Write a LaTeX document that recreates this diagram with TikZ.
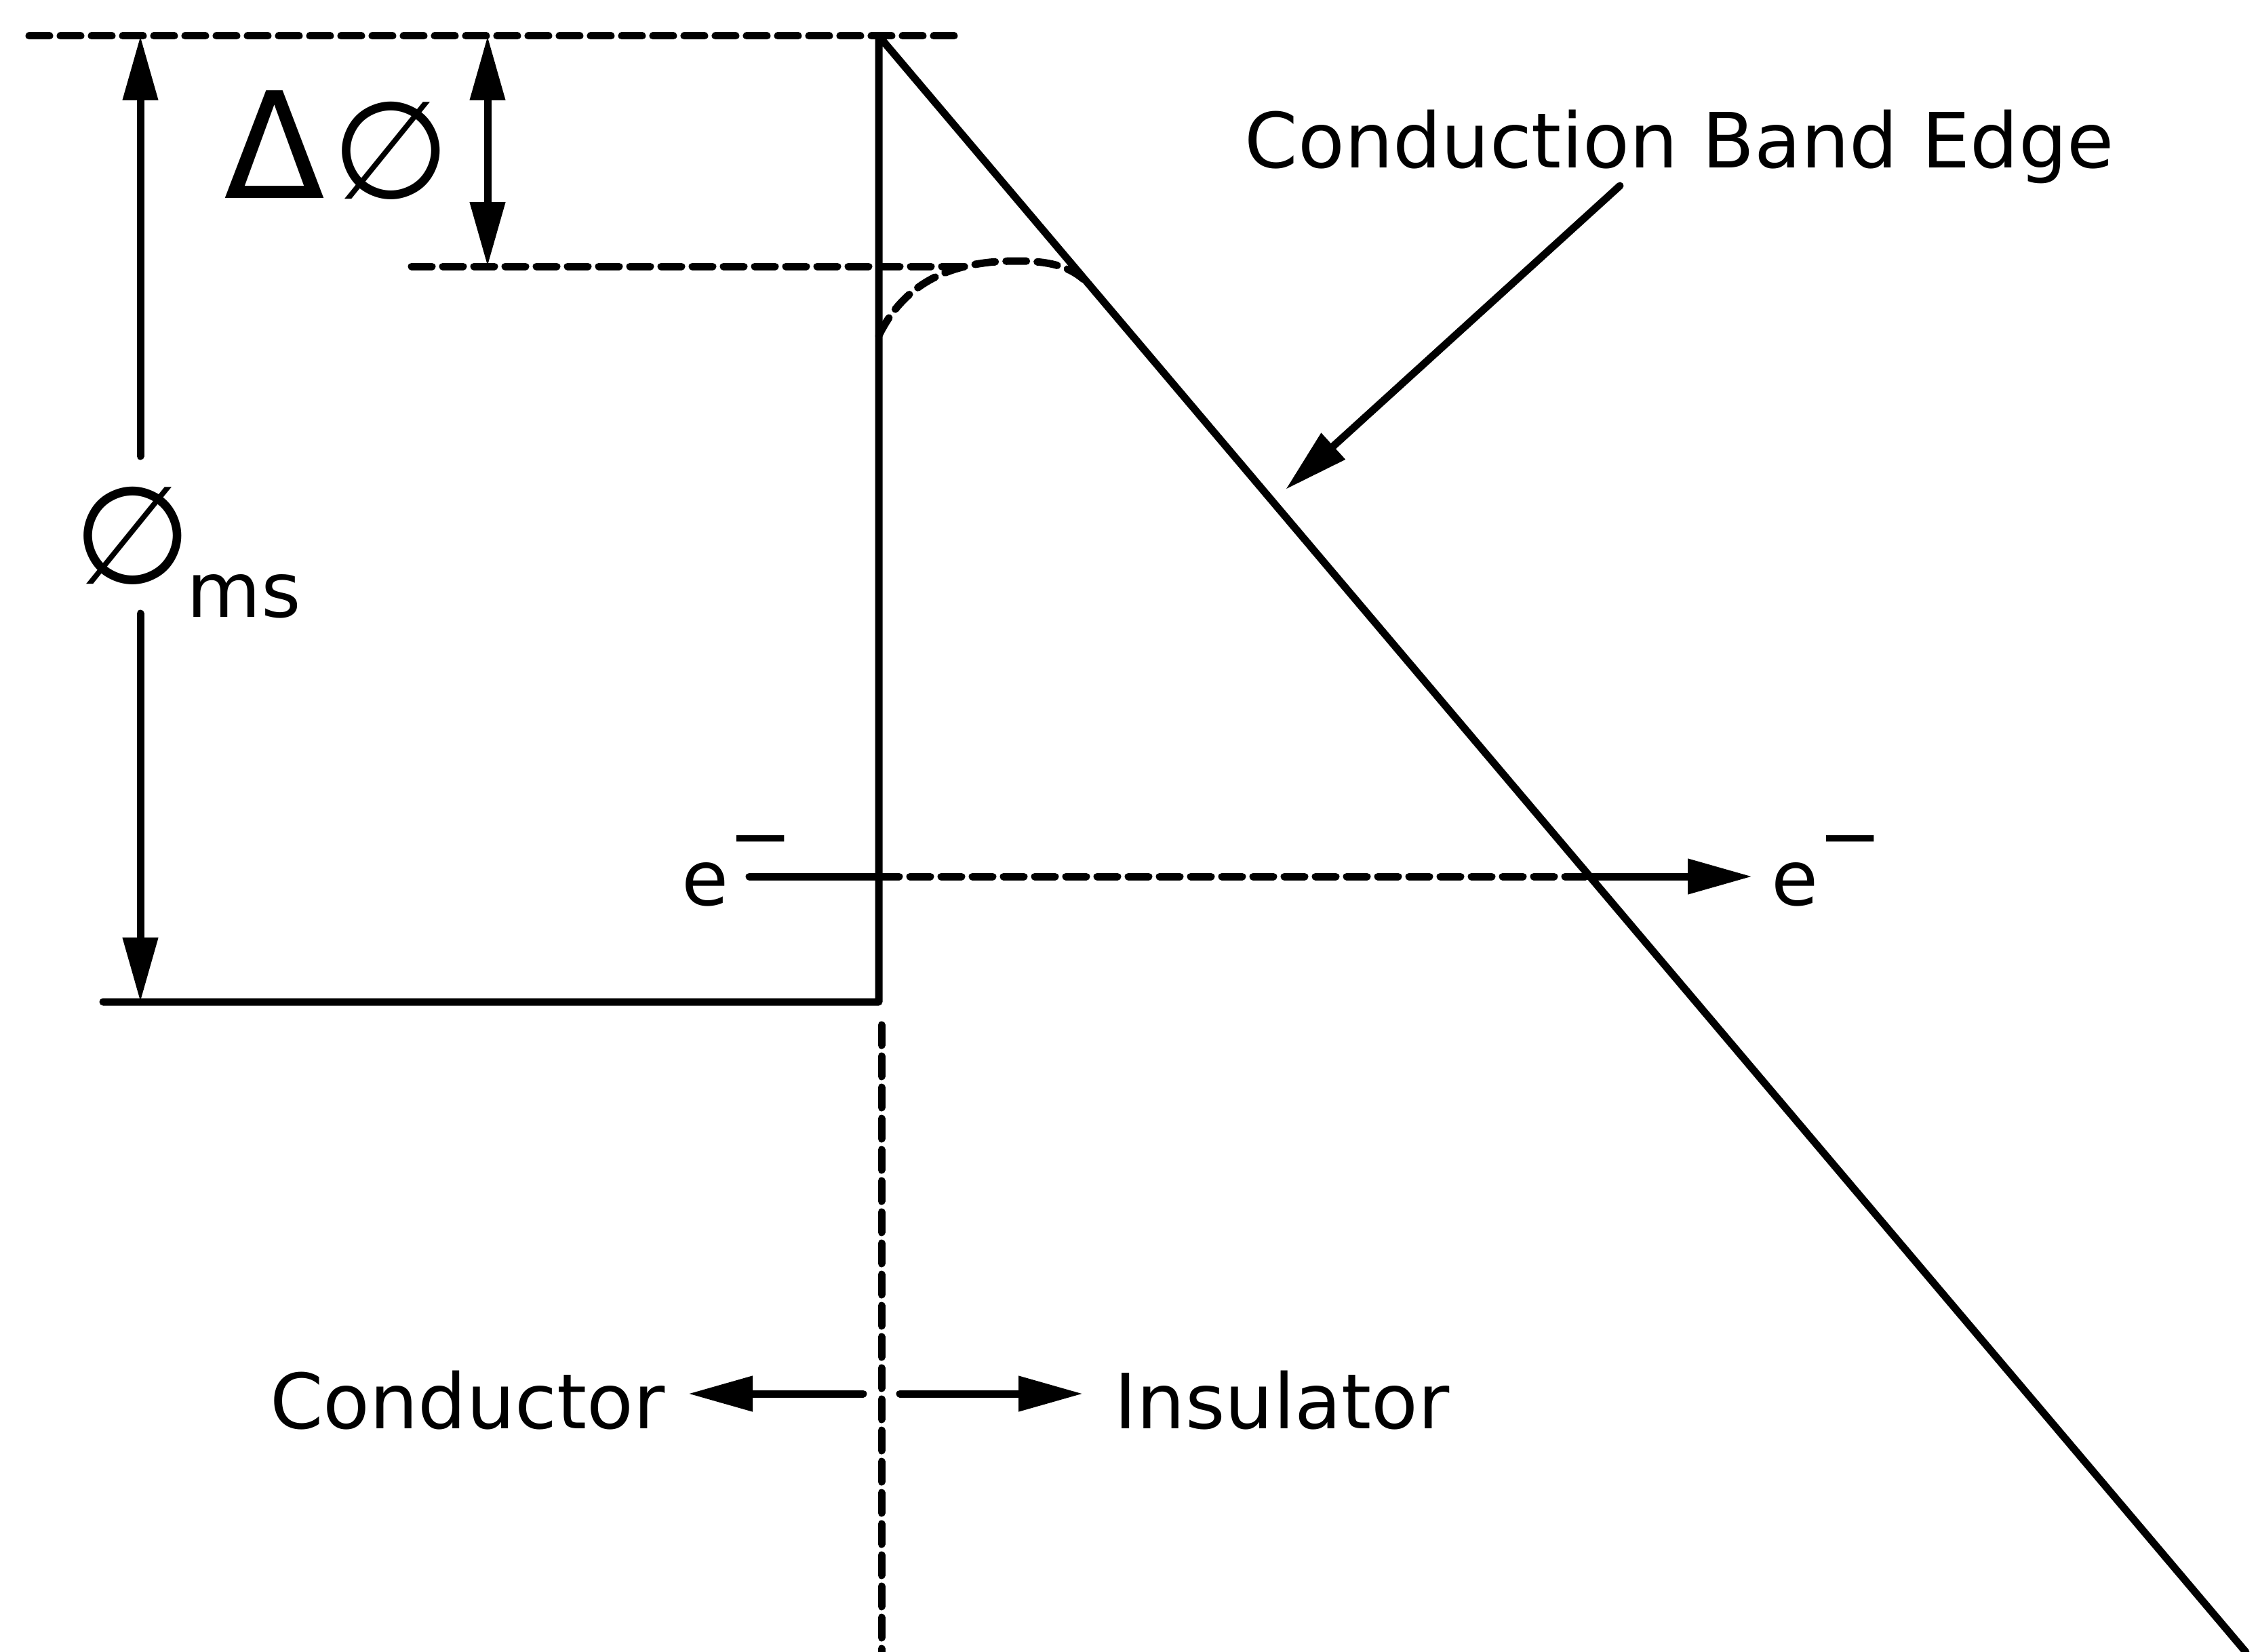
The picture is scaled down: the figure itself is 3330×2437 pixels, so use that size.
\documentclass[tikz,border=0pt]{standalone}
\usepackage{fontspec}
\setmainfont{DejaVu Sans}
\usetikzlibrary{arrows.meta}
\begin{document}
\begin{tikzpicture}[x=0.1mm,y=-0.1mm,line cap=round,line join=round,
  >={Triangle[length=9.5mm,width=5mm]},
  wire/.style={line width=1.1mm},
  dashline/.style={line width=1.1mm,dash pattern=on 3mm off 1.6mm},
  lbl/.style={inner sep=0,font=\fontsize{32}{38}\selectfont}]
\useasboundingbox (0,0) rectangle (3330,2437);
\coordinate (topL) at (43,53);
\coordinate (topR) at (1421,53);
\coordinate (wallT) at (1296,53);
\coordinate (wallB) at (1296,1478);
\coordinate (floorL) at (152,1478);
\coordinate (cbeEnd) at (3312,2437);
\coordinate (dphiL) at (607,393);
\coordinate (dphiR) at (1420,393);
\coordinate (phiTop) at (207,53);
\coordinate (phiGapT) at (207,673);
\coordinate (phiGapB) at (207,905);
\coordinate (phiBot) at (207,1478);
\coordinate (dTop) at (719,53);
\coordinate (dBot) at (719,393);
\coordinate (eS) at (1105,1293);
\coordinate (eX) at (2345,1293);
\coordinate (divT) at (1300,1512);
\coordinate (divB) at (1300,2437);
\coordinate (div) at (1300,2056);
\coordinate (ptrS) at (2389,274);
\coordinate (ptrT) at (1896,722);
\node[lbl,anchor=base west] (cbe) at (1835,248) {Conduction Band Edge};
\node[lbl,anchor=base west] (dphi) at (330,293)
  {\fontsize{62}{70}\selectfont Δ\hspace{1mm}\fontsize{57}{66}\selectfont ∅};
\node[lbl,anchor=base west] (phi) at (108,860) {\fontsize{57}{66}\selectfont ∅};
\node[lbl,anchor=base west] (ms) at (275,910) {ms};
\node[lbl,anchor=base west] (eL) at (1005,1335) {e\rlap{\raisebox{6.3mm}{−}}};
\node[lbl,anchor=base west] (eR) at (2612,1335) {e\raisebox{6.3mm}{−}};
\node[lbl,anchor=base east] (cond) at (981,2107) {Conductor};
\node[lbl,anchor=base west] (ins) at (1643,2107) {Insulator};
\draw[dashline] (topL) -- (topR);
\draw[wire] (floorL) -- (wallB) -- (wallT) -- (cbeEnd);
\draw[dashline] (dphiL) -- (dphiR);
\draw[dashline] (1296,495) .. controls (1340,405) and (1420,385) .. (1500,385)
  .. controls (1545,385) and (1575,392) .. (1598,412);
\draw[wire,->] (phiGapT) -- (phiTop);
\draw[wire,->] (phiGapB) -- (phiBot);
\draw[wire,<->] (dTop) -- (dBot);
\draw[wire] (eS) -- (wallT |- eS);
\draw[dashline] (wallT |- eS) -- (eX);
\draw[wire,->,shorten >=2.8mm] (eX) -- (eR.west |- eS);
\draw[wire,->] (ptrS) -- (ptrT);
\draw[dashline] (divT) -- (divB);
\draw[wire,->,shorten >=3.4mm] ([xshift=-2.7mm]div) -- (cond.east |- div);
\draw[wire,->,shorten >=4.6mm] ([xshift=2.7mm]div) -- (ins.west |- div);
\end{tikzpicture}
\end{document}
